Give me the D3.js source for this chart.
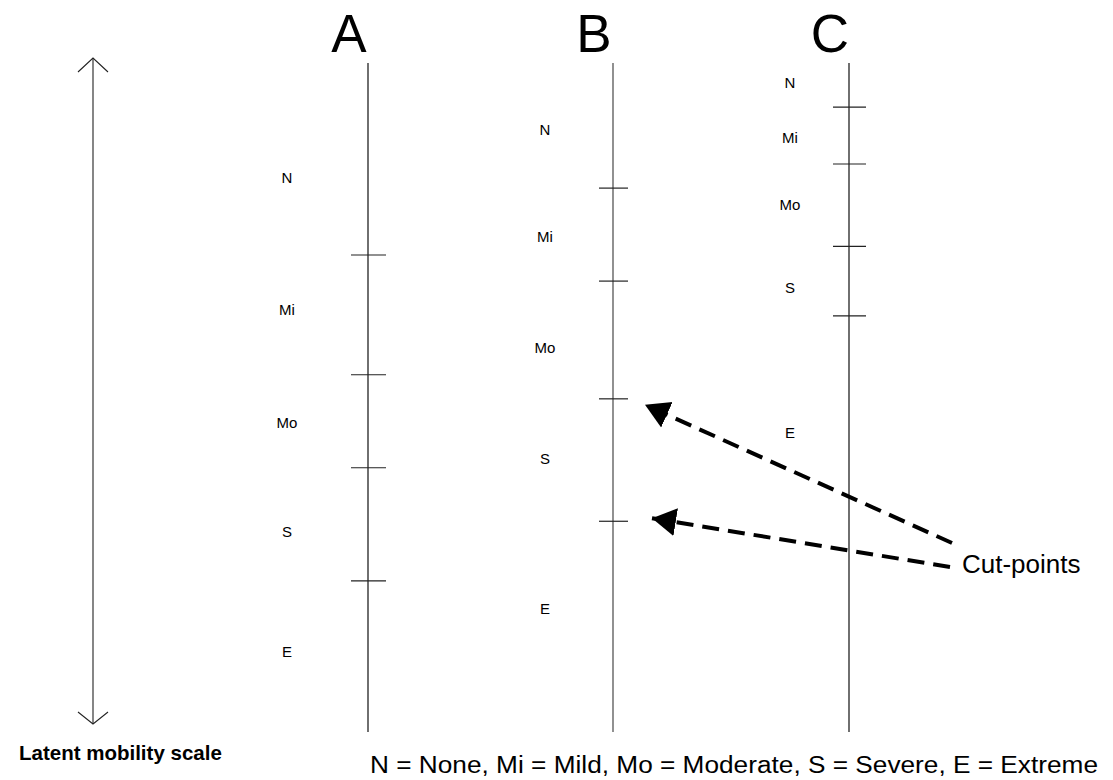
<!DOCTYPE html>
<html>
<head>
<meta charset="utf-8">
<script src="https://cdn.jsdelivr.net/npm/d3@7"></script>
<style>
  html, body { margin: 0; padding: 0; background: #fff; }
  svg { display: block; font-family: "Liberation Sans", Arial, sans-serif; }
</style>
</head>
<body>
<svg id="chart" width="1113" height="780"></svg>
<script>
// ---- data (latent scale units: 0 = top, 100 = bottom) ----
const panels = ["A", "B", "C"];
const categories = ["N", "Mi", "Mo", "S", "E"];
const cutsA = [28.7, 46.6, 60.5, 77.4];
const cutsB = [18.7, 32.6, 50.2, 68.5];
const cutsC = [6.6, 15.1, 27.4, 37.8];
const labelPosA = [17.2, 36.9, 53.7, 70.0, 88.0];
const labelPosB = [9.9, 25.9, 42.6, 59.2, 81.5];
const labelPosC = [3.0, 11.1, 21.2, 33.5, 55.3];
const highlightedCuts = [2, 3]; // indices of panel B cut-points pointed at
const legendText = "N = None, Mi = Mild, Mo = Moderate, S = Severe, E = Extreme";
const axisTitle = "Latent mobility scale";
const annotationText = "Cut-points";

// ---- layout ----
const W = 1113, H = 780;
const svg = d3.select("#chart");
const y = d3.scaleLinear().domain([0, 100]).range([63, 732]);
const x = d3.scaleOrdinal().domain(panels).range([368, 613, 849]);
const labelDx = { A: -81, B: -68, C: -59 };
const tickHalf = { A: 17, B: 14, C: 16 };

const cuts = { A: cutsA, B: cutsB, C: cutsC };
const labelPos = { A: labelPosA, B: labelPosB, C: labelPosC };

// arrow marker
const defs = svg.append("defs");
defs.append("marker")
  .attr("id", "head")
  .attr("markerUnits", "userSpaceOnUse")
  .attr("markerWidth", 30).attr("markerHeight", 30)
  .attr("viewBox", "0 -15 30 30")
  .attr("refX", 24).attr("refY", 0)
  .attr("orient", "auto")
  .append("path")
  .attr("d", "M0,-14L24,0L0,14Z")
  .attr("fill", "#000");

// left double arrow (latent scale)
const la = svg.append("g").attr("stroke", "#222").attr("stroke-width", 1.1).attr("fill", "none");
const axX = 93, axTop = y(-0.75), axBot = y(98.8);
la.append("line").attr("x1", axX).attr("x2", axX).attr("y1", axTop).attr("y2", axBot);
la.append("path").attr("d", `M${axX - 15},${axTop + 14}L${axX},${axTop}L${axX + 15},${axTop + 14}`);
la.append("path").attr("d", `M${axX - 15},${axBot - 12}L${axX},${axBot}L${axX + 15},${axBot - 12}`);

svg.append("text")
  .attr("x", 19).attr("y", 760)
  .attr("font-size", 20.5).attr("font-weight", "bold").attr("fill", "#000")
  .text(axisTitle);

// panels
panels.forEach(p => {
  const g = svg.append("g");
  const px = x(p);
  g.append("text")
    .attr("x", px - 19).attr("y", 52)
    .attr("text-anchor", "middle")
    .attr("font-size", 53).attr("fill", "#000")
    .text(p);
  g.append("line")
    .attr("x1", px).attr("x2", px)
    .attr("y1", y(0)).attr("y2", y(100))
    .attr("stroke", p === "B" ? "#555" : "#222").attr("stroke-width", 1.3);
  g.selectAll("line.cut").data(cuts[p]).join("line")
    .attr("class", "cut")
    .attr("x1", px - tickHalf[p]).attr("x2", px + tickHalf[p] + 1)
    .attr("y1", d => y(d)).attr("y2", d => y(d))
    .attr("stroke", "#222").attr("stroke-width", 1.2);
  g.selectAll("text.cat").data(categories).join("text")
    .attr("class", "cat")
    .attr("x", px + labelDx[p])
    .attr("y", (d, i) => y(labelPos[p][i]))
    .attr("dy", "0.36em")
    .attr("text-anchor", "middle")
    .attr("font-size", 15).attr("fill", "#000")
    .text(d => d);
});

// annotation
const annX = 962, annY = 573;
svg.append("text")
  .attr("x", annX).attr("y", annY)
  .attr("font-size", 26).attr("fill", "#000")
  .text(annotationText);

const starts = [[annX - 10, annY - 30], [annX - 12, annY - 6]];
const tipOffsets = [[32, 6], [39, -3]];
highlightedCuts.forEach((ci, k) => {
  const tx = x("B") + tipOffsets[k][0];
  const ty = y(cutsB[ci]) + tipOffsets[k][1];
  svg.append("line")
    .attr("x1", starts[k][0]).attr("y1", starts[k][1])
    .attr("x2", tx).attr("y2", ty)
    .attr("stroke", "#000").attr("stroke-width", 4)
    .attr("stroke-dasharray", "17,9")
    .attr("marker-end", "url(#head)");
});

// legend
svg.append("text")
  .attr("x", 370).attr("y", 773)
  .attr("font-size", 23).attr("fill", "#000")
  .attr("textLength", 728).attr("lengthAdjust", "spacingAndGlyphs")
  .text(legendText);
</script>
</body>
</html>
